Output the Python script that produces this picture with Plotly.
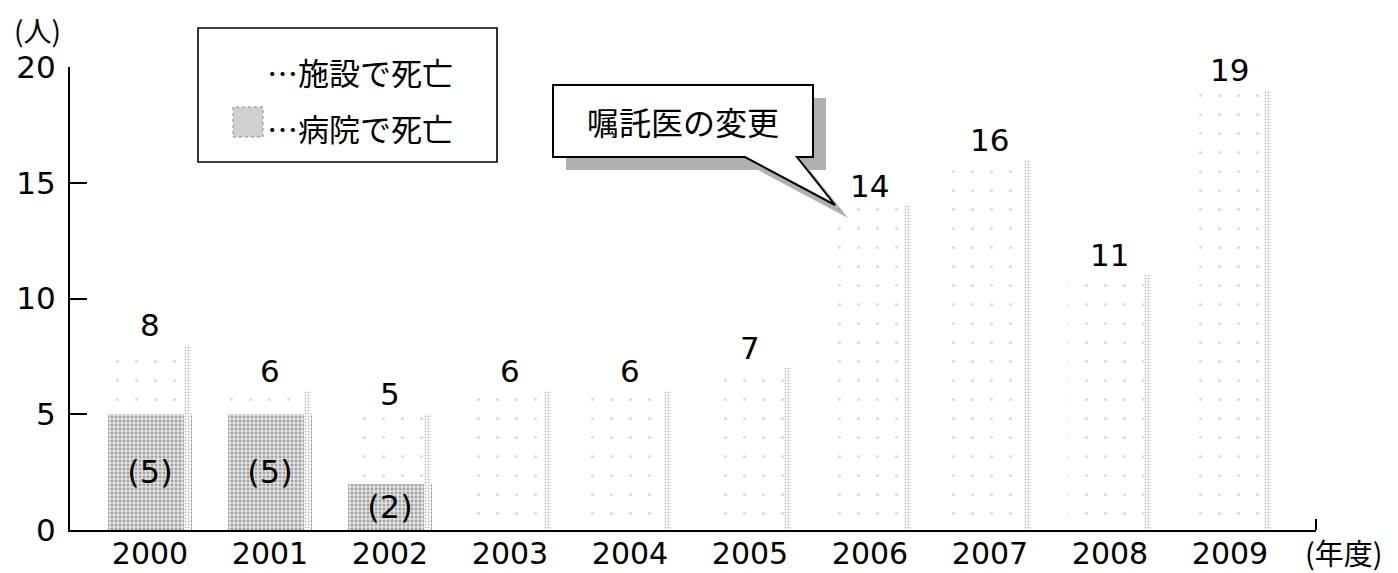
import plotly.graph_objects as go

# Yearly deaths of residents, split by place of death
years = ["2000", "2001", "2002", "2003", "2004", "2005", "2006", "2007", "2008", "2009"]
facility_deaths = [3, 1, 3, 6, 6, 7, 14, 16, 11, 19]
hospital_deaths = [5, 5, 2, 0, 0, 0, 0, 0, 0, 0]
y_ticks = [0, 5, 10, 15, 20]

totals = [f + h for f, h in zip(facility_deaths, hospital_deaths)]
hospital_text = [f"({h})" if h else "" for h in hospital_deaths]

NUM_FONT = "DejaVu Sans"
JP_FONT = "Noto Sans CJK JP"

W, H = 1398, 573
ML, MR, MT, MB = 70, 82, 67, 43
PW, PH = W - ML - MR, H - MT - MB


def px(xp):
    return (xp - ML) / PW


def py(yp):
    return (H - MB - yp) / PH


BAR_W = 0.7

fig = go.Figure()

# hospital part at the bottom of each bar
fig.add_trace(go.Bar(
    x=years, y=hospital_deaths, base=0, width=BAR_W,
    marker=dict(color="#dcdcdc", line=dict(width=0),
                pattern=dict(shape=".", fgcolor="#5e5e5e", bgcolor="#e2e2e2",
                             size=4, solidity=0.4)),
    text=hospital_text, textposition="inside", insidetextanchor="middle",
    textangle=0, constraintext="none",
    textfont=dict(family=NUM_FONT, size=32, color="black"),
    showlegend=False, hoverinfo="skip",
))

# facility part stacked on top of the hospital part
fig.add_trace(go.Bar(
    x=years, y=facility_deaths, base=hospital_deaths, width=BAR_W,
    marker=dict(color="white", line=dict(width=0),
                pattern=dict(shape=".", fgcolor="#b5b5b5", bgcolor="white",
                             size=19, solidity=0.02)),
    showlegend=False, hoverinfo="skip",
))

# speckled shading along the right side of each bar
fig.add_trace(go.Bar(
    x=years, y=totals, base=0, width=0.06, offset=BAR_W / 2 - 0.07,
    marker=dict(color="white", line=dict(width=0),
                pattern=dict(shape=".", fgcolor="#7a7a7a", bgcolor="white",
                             size=3, solidity=0.3)),
    showlegend=False, hoverinfo="skip",
))

annotations = []
for i, t in enumerate(totals):
    annotations.append(dict(
        x=i, y=t, xref="x", yref="y", text=str(t), showarrow=False,
        yanchor="bottom", yshift=0, font=dict(family=NUM_FONT, size=31, color="black"),
    ))

# axis unit labels
annotations.append(dict(x=px(37), y=py(30), xref="paper", yref="paper", text="(人)",
                        showarrow=False, xanchor="center", yanchor="middle",
                        font=dict(family=JP_FONT, size=28, color="black")))
annotations.append(dict(x=px(1344), y=py(552), xref="paper", yref="paper", text="(年度)",
                        showarrow=False, xanchor="center", yanchor="middle",
                        font=dict(family=JP_FONT, size=29, color="black")))

# legend texts
annotations.append(dict(x=px(265), y=py(72), xref="paper", yref="paper", text="…施設で死亡",
                        showarrow=False, xanchor="left", yanchor="middle",
                        font=dict(family=JP_FONT, size=31, color="black")))
annotations.append(dict(x=px(265), y=py(127), xref="paper", yref="paper", text="…病院で死亡",
                        showarrow=False, xanchor="left", yanchor="middle",
                        font=dict(family=JP_FONT, size=31, color="black")))

# callout text
annotations.append(dict(x=px(683), y=py(121), xref="paper", yref="paper", text="嘱託医の変更",
                        showarrow=False, xanchor="center", yanchor="middle",
                        font=dict(family=JP_FONT, size=32, color="black")))


def path(points):
    return "M " + " L ".join(f"{px(a):.5f},{py(b):.5f}" for a, b in points) + " Z"


callout = [(553, 85), (813, 85), (813, 157), (797, 157), (835, 205), (745, 157), (553, 157)]
shadow = [(a + 13, b + 13) for a, b in callout]

shapes = [
    # legend frame and swatch
    dict(type="rect", xref="paper", yref="paper", x0=px(198), x1=px(497), y0=py(162), y1=py(28),
         line=dict(color="black", width=1.6), fillcolor="white", layer="above"),
    dict(type="rect", xref="paper", yref="paper", x0=px(233), x1=px(263), y0=py(137), y1=py(107),
         line=dict(color="#8a8a8a", width=1, dash="dot"), fillcolor="#d0d0d0", layer="above"),
    # callout with drop shadow
    dict(type="path", xref="paper", yref="paper", path=path(shadow),
         line=dict(width=0), fillcolor="rgba(80,80,80,0.45)", layer="above"),
    dict(type="path", xref="paper", yref="paper", path=path(callout),
         line=dict(color="black", width=2), fillcolor="white", layer="above"),
    # small tick closing the right end of the x axis
    dict(type="line", xref="paper", yref="paper", x0=1, x1=1, y0=0, y1=py(519),
         line=dict(color="black", width=2)),
]

fig.update_layout(
    width=W, height=H,
    margin=dict(l=ML, r=MR, t=MT, b=MB),
    plot_bgcolor="white", paper_bgcolor="white",
    barmode="overlay", bargap=0,
    showlegend=False,
    annotations=annotations,
    shapes=shapes,
    xaxis=dict(
        type="category", range=[-0.667, 9.717],
        showline=True, linecolor="black", linewidth=2,
        ticks="", showgrid=False, zeroline=False, automargin=False,
        tickfont=dict(family=NUM_FONT, size=30, color="black"),
        ticklabelstandoff=-4,
    ),
    yaxis=dict(
        range=[0, 20], tickvals=y_ticks,
        showline=True, linecolor="black", linewidth=2,
        ticks="inside", ticklen=17, tickwidth=1.5, tickcolor="black",
        showgrid=False, zeroline=False, automargin=False,
        tickfont=dict(family=NUM_FONT, size=31, color="black"),
        ticklabelstandoff=6,
    ),
)

fig.write_html("out.html")
